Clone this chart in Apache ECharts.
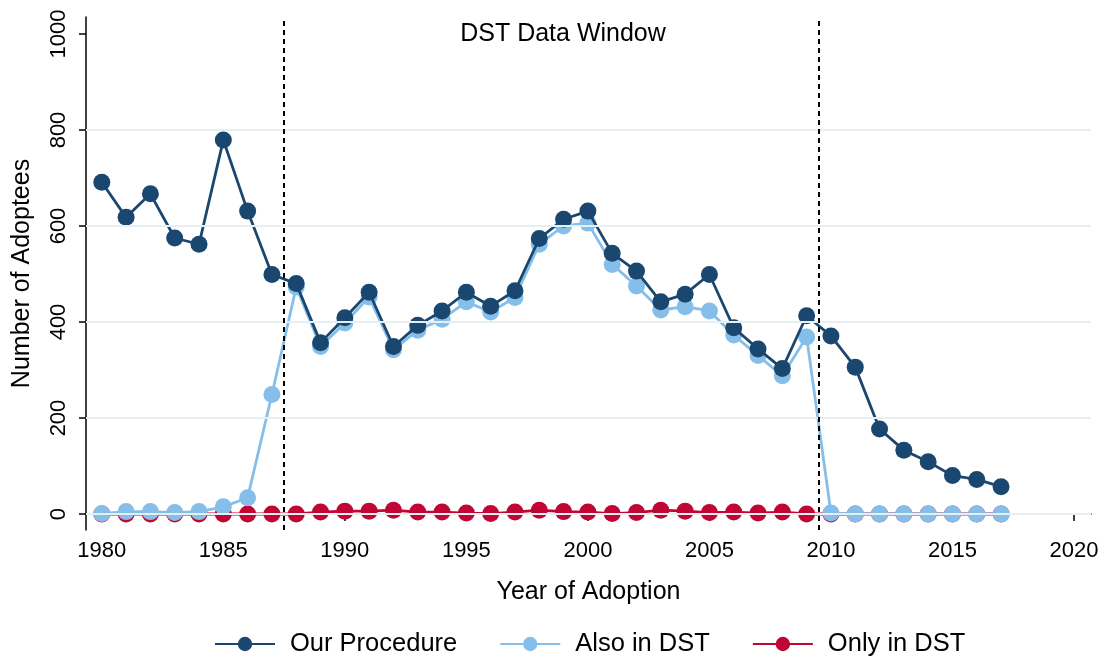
<!DOCTYPE html>
<html lang="en">
<head>
    <meta charset="UTF-8">
    <title>Adoptees by Year</title>
    <script src="https://cdn.jsdelivr.net/npm/echarts@6/dist/echarts.min.js"></script>
    <style>
        * {
            margin: 0;
            padding: 0;
        }

        html, body {
            width: 100%;
            height: 100%;
            background-color: white;
        }

        #chart {
            width: 1108px;
            height: 659px;
        }
    </style>
</head>
<body>
<div id="chart"></div>
<script>
    const years = [1980, 1981, 1982, 1983, 1984, 1985, 1986, 1987, 1988, 1989,
        1990, 1991, 1992, 1993, 1994, 1995, 1996, 1997, 1998, 1999,
        2000, 2001, 2002, 2003, 2004, 2005, 2006, 2007, 2008, 2009,
        2010, 2011, 2012, 2013, 2014, 2015, 2016, 2017]
    const ourProcedure = [691, 618, 667, 575, 562, 779, 631, 499, 480, 357,
        409, 462, 349, 393, 423, 462, 433, 465, 574, 614,
        631, 543, 506, 442, 458, 499, 388, 344, 303, 413,
        371, 306, 177, 133, 109, 80, 72, 57]
    const alsoInDst = [1, 5, 5, 3, 5, 15, 34, 249, 473, 349,
        398, 452, 342, 383, 406, 442, 421, 451, 562, 600,
        606, 520, 475, 425, 432, 423, 373, 330, 288, 369,
        2, 0, 0, 0, 0, 0, 0, 0]
    const onlyInDst = [0, 0, 0, 0, 0, 0, 0, 0, 0, 4,
        6, 6, 8, 4, 4, 2, 1, 4, 8, 5,
        4, 1, 3, 8, 6, 3, 4, 2, 4, 0,
        0, 0, 0, 0, 0, 0, 0, 0]
    const xTicks = [1980, 1985, 1990, 1995, 2000, 2005, 2010, 2015, 2020]
    const yTicks = [0, 200, 400, 600, 800, 1000]
    const gridValues = [0, 200, 400, 600, 800]
    const windowBounds = [1987.5, 2009.5]

    const font = 'Liberation Sans, Arial, sans-serif'
    const pairs = function (vals) {
        return years.map((y, i) => [y, vals[i]])
    }

    const lineSeries = function (name, vals, color, z) {
        return {
            name: name,
            type: 'line',
            data: pairs(vals),
            symbol: 'circle',
            symbolSize: 17,
            z: z,
            itemStyle: {color: color},
            lineStyle: {color: color, width: 2.8},
            emphasis: {disabled: true}
        }
    }

    let chart = echarts.init(document.getElementById('chart'))
    chart.setOption({
        animation: false,
        backgroundColor: '#fff',
        textStyle: {fontFamily: font},
        grid: {left: 86, right: 17, top: 17, bottom: 129, outerBoundsMode: 'none', containLabel: false},
        legend: {
            data: ['Our Procedure', 'Also in DST', 'Only in DST'],
            bottom: -3,
            left: 209,
            itemWidth: 60,
            itemHeight: 18,
            itemGap: 42,
            textStyle: {fontSize: 25.5, color: '#000', fontFamily: font, padding: [0, 0, 0, 10]}
        },
        graphic: [{
            type: 'text',
            x: 563,
            y: 34,
            style: {
                text: 'DST Data Window',
                fontSize: 25,
                fontFamily: font,
                fill: '#000',
                textAlign: 'center',
                textVerticalAlign: 'middle'
            }
        }],
        xAxis: {
            type: 'value',
            min: 1979.35,
            max: 2020.7,
            name: 'Year of Adoption',
            nameLocation: 'middle',
            nameGap: 50,
            nameTextStyle: {fontSize: 25, color: '#000', fontFamily: font},
            axisLine: {lineStyle: {color: '#000', width: 1.5}},
            axisTick: {customValues: xTicks, length: 7, lineStyle: {color: '#000', width: 1.5}},
            axisLabel: {
                customValues: xTicks, fontSize: 22, color: '#000', margin: 10, fontFamily: font,
                formatter: v => String(v)
            },
            splitLine: {show: false}
        },
        yAxis: {
            type: 'value',
            min: -33.3,
            max: 1035.4,
            name: 'Number of Adoptees',
            nameLocation: 'middle',
            nameGap: 51,
            nameTextStyle: {fontSize: 25, color: '#000', fontFamily: font},
            axisLine: {show: true, lineStyle: {color: '#000', width: 1.5}},
            axisTick: {show: true, customValues: yTicks, length: 7, lineStyle: {color: '#000', width: 1.5}},
            axisLabel: {
                customValues: yTicks, rotate: 90, fontSize: 22, color: '#000', margin: 16, fontFamily: font,
                formatter: v => String(v)
            },
            splitLine: {show: false}
        },
        series: [
            {
                name: 'grid',
                type: 'line',
                data: [],
                z: 0,
                markLine: {
                    silent: true,
                    symbol: 'none',
                    label: {show: false},
                    lineStyle: {color: '#e6f0f2', width: 2, type: 'solid'},
                    data: gridValues.map(v => ({yAxis: v}))
                }
            },
            lineSeries('Only in DST', onlyInDst, '#c10534', 2),
            lineSeries('Also in DST', alsoInDst, '#85bfe9', 3),
            lineSeries('Our Procedure', ourProcedure, '#1a476f', 4),
            {
                name: 'window',
                type: 'line',
                data: [],
                z: 5,
                markLine: {
                    silent: true,
                    symbol: 'none',
                    label: {show: false},
                    lineStyle: {color: '#000', width: 2, type: [5, 4]},
                    data: windowBounds.map(v => ({xAxis: v}))
                }
            }
        ]
    })
</script>
</body>
</html>
